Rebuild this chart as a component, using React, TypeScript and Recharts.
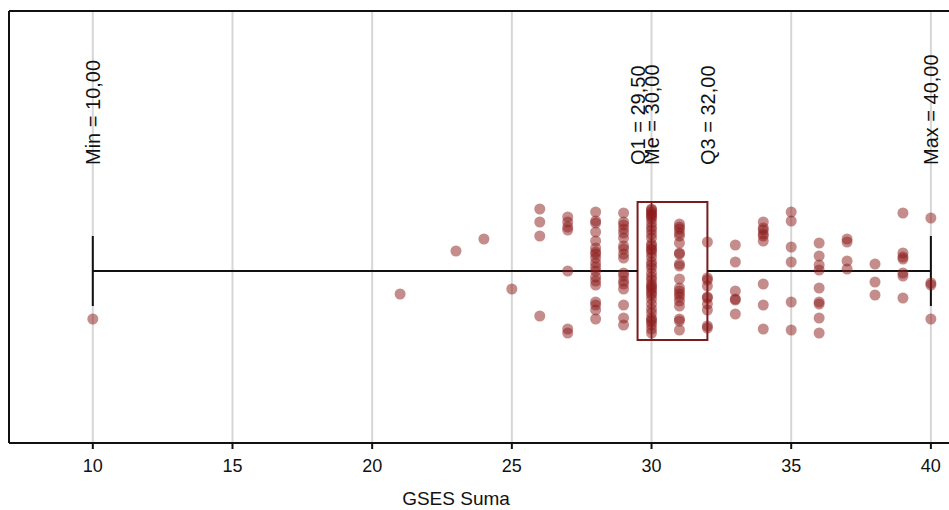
import { ScatterChart, Scatter, XAxis, YAxis, CartesianGrid, ReferenceLine, ReferenceArea } from 'recharts';

// GSES Suma scores and the vertical jitter of each observation at that score
const scores = [10, 21, 23, 24, 25, 26, 27, 28, 29, 30, 31, 32, 33, 34, 35, 36, 37, 38, 39, 40];
const jitter: number[][] = [
  [-48],
  [-23],
  [20],
  [32],
  [-18],
  [62, 49, 35, -45],
  [54, 49, 44, 41, 0, -58, -62],
  [59, 50, 48, 39, 30, 23, 19, 17, 13, 8, 4, 0, -6, -10, -14, -31, -34, -39, -48],
  [58, 49, 46, 42, 38, 33, 25, 22, 17, 13, -2, -5, -10, -13, -18, -34, -47, -54],
  [62, 61, 59, 57, 56, 54, 52, 48, 44, 41, 37, 33, 27, 25, 22, 21, 18, 14, 9, 6, 3, -2, -6, -9, -13, -15, -17, -19, -22, -24, -28, -33, -38, -42, -47, -49, -51, -54, -58, -62],
  [47, 44, 42, 38, 35, 28, 18, 17, 7, 5, -8, -17, -20, -23, -26, -30, -35, -48, -50, -59],
  [29, -7, -9, -15, -26, -27, -33, -39, -55, -57],
  [26, 9, -20, -28, -29, -43],
  [49, 43, 41, 37, 35, 30, -13, -34, -58],
  [59, 50, 24, 9, -31, -59],
  [28, 15, 6, 1, -17, -31, -33, -47, -62],
  [32, 29, 10, 2],
  [7, -11, -24],
  [58, 18, 14, 12, -2, -5, -27],
  [53, -12, -14, -48],
];

const xTicks = [10, 15, 20, 25, 30, 35, 40];

// summary statistics
const minVal = 10;
const q1 = 29.5;
const median = 30;
const q3 = 32;
const maxVal = 40;

const statLabels = [
  { x: minVal, text: 'Min = 10,00' },
  { x: q1, text: 'Q1 = 29,50' },
  { x: median, text: 'Me = 30,00' },
  { x: q3, text: 'Q3 = 32,00' },
  { x: maxVal, text: 'Max = 40,00' },
];

const points = scores.flatMap((s, i) => jitter[i].map((j) => ({ score: s, j })));

const FONT = '"Liberation Sans", Arial, sans-serif';
const BOX = '#7b1c1c';

const Dot = (props: any) => (
  <circle cx={props.cx} cy={props.cy} r={5.5} fill="#8b1a1a" fillOpacity={0.5} />
);

const rotatedLabel = (text: string) => (props: any) => {
  const vb = props.viewBox || {};
  const x = vb.x;
  const y = 165;
  return (
    <text
      x={x}
      y={y}
      dy="0.36em"
      transform={`rotate(-90, ${x}, ${y})`}
      textAnchor="start"
      fontFamily={FONT}
      fontSize={20}
      fill="#111"
    >
      {text}
    </text>
  );
};

export default function App() {
  return (
    <div style={{ position: 'absolute', left: 0, top: 0, width: 949, height: 510, overflow: 'hidden', background: '#fff' }}>
      <ScatterChart width={960} height={510} margin={{ top: 10, right: 9, bottom: 0, left: 8 }}>
        <CartesianGrid horizontal={false} stroke="#d6d6d6" strokeWidth={2} />
        <XAxis
          type="number"
          dataKey="score"
          domain={[7, 40.72]}
          ticks={xTicks}
          allowDataOverflow
          height={67}
          tickSize={6}
          tickMargin={10}
          axisLine={{ stroke: '#111', strokeWidth: 2 }}
          tickLine={{ stroke: '#111', strokeWidth: 2 }}
          tick={{ fontFamily: FONT, fontSize: 18, fill: '#111' }}
          label={() => (
            <text x={456} y={505} textAnchor="middle" fontFamily={FONT} fontSize={19} fill="#111">
              GSES Suma
            </text>
          )}
        />
        <XAxis
          xAxisId="top"
          orientation="top"
          type="number"
          dataKey="score"
          domain={[7, 40.72]}
          ticks={xTicks}
          allowDataOverflow
          height={1}
          tickSize={-5}
          tick={false}
          axisLine={{ stroke: '#111', strokeWidth: 2 }}
          tickLine={{ stroke: '#111', strokeWidth: 2 }}
        />
        <YAxis
          type="number"
          dataKey="j"
          domain={[-172, 260]}
          width={1}
          tick={false}
          tickLine={false}
          axisLine={{ stroke: '#111', strokeWidth: 2 }}
        />
        {statLabels.map((l) => (
          <ReferenceLine key={l.text} x={l.x} stroke="none" label={rotatedLabel(l.text)} />
        ))}
        <ReferenceLine segment={[{ x: minVal, y: 0 }, { x: q1, y: 0 }]} stroke="#111" strokeWidth={2} />
        <ReferenceLine segment={[{ x: q3, y: 0 }, { x: maxVal, y: 0 }]} stroke="#111" strokeWidth={2} />
        <ReferenceLine segment={[{ x: minVal, y: -35 }, { x: minVal, y: 35 }]} stroke="#111" strokeWidth={2} />
        <ReferenceLine segment={[{ x: maxVal, y: -35 }, { x: maxVal, y: 35 }]} stroke="#111" strokeWidth={2} />
        <ReferenceLine segment={[{ x: median, y: -69 }, { x: median, y: 69 }]} stroke={BOX} strokeWidth={1.5} />
        <ReferenceArea x1={q1} x2={q3} y1={-69} y2={69} fill="none" stroke={BOX} strokeWidth={2} fillOpacity={0} />
        <Scatter data={points} shape={Dot} isAnimationActive={false} />
      </ScatterChart>
    </div>
  );
}
